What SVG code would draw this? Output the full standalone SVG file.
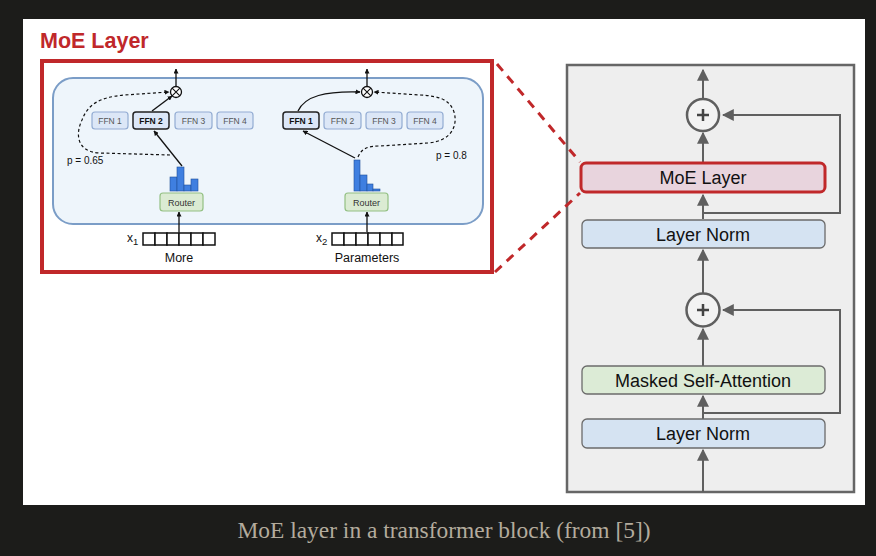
<svg xmlns="http://www.w3.org/2000/svg" width="876" height="556" viewBox="0 0 876 556">
<style>
.sans{font-family:"Liberation Sans",Arial,sans-serif;}
.ffn{fill:#dce7f7;stroke:#93acd3;stroke-width:1.2;}
.ffnsel{fill:#dce7f7;stroke:#222;stroke-width:1.5;}
.ffnt{font-family:"Liberation Sans",Arial,sans-serif;font-size:8.5px;fill:#555;text-anchor:middle;}
.ffnts{font-family:"Liberation Sans",Arial,sans-serif;font-size:8.5px;fill:#111;font-weight:bold;text-anchor:middle;}
.router{fill:#dbebd3;stroke:#93c083;stroke-width:1.2;}
.bar{fill:#3f7fe0;stroke:#1f4f9a;stroke-width:0.6;}
.cell{fill:#fff;stroke:#111;stroke-width:1.5;}
.thin{stroke:#111;stroke-width:1.3;fill:none;}
.dash{stroke:#111;stroke-width:1.2;fill:none;stroke-dasharray:3 2.5;}
.gline{stroke:#5f5f5f;stroke-width:2;fill:none;}
.box{stroke:#6b6b6b;stroke-width:1.3;}
.lbl{font-family:"Liberation Sans",Arial,sans-serif;font-size:18px;fill:#111;text-anchor:middle;}
</style>
<defs>
<marker id="ah" viewBox="0 0 10 10" refX="9" refY="5" markerWidth="5" markerHeight="5" orient="auto" markerUnits="userSpaceOnUse">
<path d="M0,0 L10,5 L0,10 z" fill="#111"/>
</marker>
<marker id="gh" viewBox="0 0 10 10" refX="9" refY="5" markerWidth="12" markerHeight="12" orient="auto" markerUnits="userSpaceOnUse">
<path d="M0,0 L10,5 L0,10 z" fill="#5f5f5f"/>
</marker>
</defs>
<rect width="876" height="556" fill="#1c1c1a"/>
<rect x="23" y="19" width="842" height="486" fill="#ffffff"/>

<text x="444" y="538" text-anchor="middle" font-family="'Liberation Serif','DejaVu Serif',serif" font-size="23" textLength="413" lengthAdjust="spacingAndGlyphs" fill="#b3ab9d">MoE layer in a transformer block (from [5])</text>

<!-- Left MoE detail -->
<g id="moe-title">
<text x="40" y="48" class="sans" font-size="21.5" font-weight="bold" fill="#c0282a">MoE Layer</text>
</g>
<g id="moe-detail">
<rect x="42" y="61" width="450" height="211" fill="none" stroke="#c0282a" stroke-width="4"/>
<rect x="53" y="78" width="430" height="146" rx="20" fill="#eef5fb" stroke="#7b9dc7" stroke-width="2"/>
</g>

<g id="token1">
<g id="ffn-left">
<rect class="ffn" x="92" y="112" width="36" height="17" rx="3"/><text class="ffnt" x="110" y="123.8">FFN 1</text>
<rect class="ffnsel" x="133" y="112" width="36" height="17" rx="3"/><text class="ffnts" x="151" y="123.8">FFN 2</text>
<rect class="ffn" x="175" y="112" width="37" height="17" rx="3"/><text class="ffnt" x="193.5" y="123.8">FFN 3</text>
<rect class="ffn" x="217" y="112" width="36" height="17" rx="3"/><text class="ffnt" x="235" y="123.8">FFN 4</text>
</g>
<g id="otimes-left">
<circle cx="176" cy="92" r="5.5" fill="#fff" stroke="#111" stroke-width="1.3"/>
<path d="M172.1,88.1 L179.9,95.9 M179.9,88.1 L172.1,95.9" stroke="#111" stroke-width="1.1"/>
</g>
<g id="hist-left">
<rect class="bar" x="170" y="177" width="7" height="14"/>
<rect class="bar" x="177" y="167" width="7" height="24"/>
<rect class="bar" x="184" y="185" width="7" height="6"/>
<rect class="bar" x="191" y="179" width="7" height="12"/>
</g>
<g id="router-left">
<rect class="router" x="160" y="193" width="43" height="18" rx="3"/>
<text x="181.5" y="205.5" class="sans" font-size="9" fill="#333" text-anchor="middle">Router</text>
</g>
<g id="x1">
<rect class="cell" x="143" y="233" width="12" height="12"/><rect class="cell" x="155" y="233" width="12" height="12"/><rect class="cell" x="167" y="233" width="12" height="12"/><rect class="cell" x="179" y="233" width="12" height="12"/><rect class="cell" x="191" y="233" width="12" height="12"/><rect class="cell" x="203" y="233" width="12" height="12"/>
<text x="127" y="242" class="sans" font-size="12" fill="#111">x<tspan font-size="9.5" dy="3">1</tspan></text>
<text x="179" y="262" class="sans" font-size="12.5" fill="#111" text-anchor="middle">More</text>
</g>
<text x="67" y="164" class="sans" font-size="10" fill="#111">p = 0.65</text>
</g>

<g id="token2">
<g id="ffn-right">
<rect class="ffnsel" x="283" y="112" width="36" height="17" rx="3"/><text class="ffnts" x="301" y="123.8">FFN 1</text>
<rect class="ffn" x="324" y="112" width="37" height="17" rx="3"/><text class="ffnt" x="342.5" y="123.8">FFN 2</text>
<rect class="ffn" x="366" y="112" width="36" height="17" rx="3"/><text class="ffnt" x="384" y="123.8">FFN 3</text>
<rect class="ffn" x="407" y="112" width="36" height="17" rx="3"/><text class="ffnt" x="425" y="123.8">FFN 4</text>
</g>
<g id="otimes-right">
<circle cx="367" cy="92" r="5.5" fill="#fff" stroke="#111" stroke-width="1.3"/>
<path d="M363.1,88.1 L370.9,95.9 M370.9,88.1 L363.1,95.9" stroke="#111" stroke-width="1.1"/>
</g>
<g id="hist-right">
<rect class="bar" x="354" y="160" width="6" height="31"/>
<rect class="bar" x="360" y="175" width="7" height="16"/>
<rect class="bar" x="367" y="184" width="6" height="7"/>
<rect class="bar" x="373" y="189" width="7" height="2"/>
</g>
<g id="router-right">
<rect class="router" x="345" y="193" width="43" height="18" rx="3"/>
<text x="366.5" y="205.5" class="sans" font-size="9" fill="#333" text-anchor="middle">Router</text>
</g>
<g id="x2">
<rect class="cell" x="332" y="233" width="12" height="12"/><rect class="cell" x="344" y="233" width="12" height="12"/><rect class="cell" x="356" y="233" width="12" height="12"/><rect class="cell" x="368" y="233" width="12" height="12"/><rect class="cell" x="380" y="233" width="12" height="12"/><rect class="cell" x="392" y="233" width="11" height="12"/>
<text x="316" y="242" class="sans" font-size="12" fill="#111">x<tspan font-size="9.5" dy="3">2</tspan></text>
<text x="367" y="262" class="sans" font-size="12.5" fill="#111" text-anchor="middle">Parameters</text>
</g>
<text x="436" y="159" class="sans" font-size="10" fill="#111">p = 0.8</text>
</g>

<g id="moe-connectors">
<path class="thin" d="M176,86.5 L176,69" marker-end="url(#ah)"/>
<path class="thin" d="M152,111 L172,96" marker-end="url(#ah)"/>
<path class="thin" d="M182,166 L154,131" marker-end="url(#ah)"/>
<path class="thin" d="M179,232 L179,212" marker-end="url(#ah)"/>
<path class="dash" d="M170,155 L100,153 C75,152 76,132 82,120 C88,104 100,97 125,95 L169,92" marker-end="url(#ah)"/>
<path class="thin" d="M367,86.5 L367,69" marker-end="url(#ah)"/>
<path class="thin" d="M355,158 L303,131" marker-end="url(#ah)"/>
<path class="thin" d="M298,111 C305,96 325,91 360,92" marker-end="url(#ah)"/>
<path class="thin" d="M367,232 L367,212" marker-end="url(#ah)"/>
<path class="dash" d="M358,157 C362,148 368,146 380,146 L428,143 C452,141 458,125 454,112 C450,100 440,96 420,95 L374,92" marker-end="url(#ah)"/>
</g>

<!-- Right transformer block -->
<g id="block">
<rect x="567" y="65" width="287" height="427" fill="#eeeeee" stroke="#666" stroke-width="2.5"/>
</g>
<g id="block-connectors">
<path class="gline" d="M703,98 L703,70" marker-end="url(#gh)"/>
<path class="gline" d="M703,162 L703,133" marker-end="url(#gh)"/>
<path class="gline" d="M703,219 L703,195" marker-end="url(#gh)"/>
<path class="gline" d="M703,213 L840,213 L840,115 L723,115" marker-end="url(#gh)"/>
<path class="gline" d="M703,293 L703,250" marker-end="url(#gh)"/>
<path class="gline" d="M703,366 L703,329" marker-end="url(#gh)"/>
<path class="gline" d="M703,419 L703,396" marker-end="url(#gh)"/>
<path class="gline" d="M703,413 L840,413 L840,310 L723,310" marker-end="url(#gh)"/>
<path class="gline" d="M703,492 L703,450" marker-end="url(#gh)"/>
</g>
<g id="add-top">
<circle cx="703" cy="115" r="16" fill="#f3f3f3" stroke="#5f5f5f" stroke-width="2.5"/>
<path d="M697,115 L709,115 M703,109 L703,121" stroke="#444" stroke-width="2.5"/>
</g>
<g id="moe-node">
<rect x="581" y="163" width="244" height="29" rx="5" fill="#e8d4dd" stroke="#c0282a" stroke-width="3"/>
<text class="lbl" x="703" y="184">MoE Layer</text>
</g>
<g id="layernorm-top">
<rect x="582" y="220" width="243" height="28" rx="5" fill="#d5e3f2" class="box"/>
<text class="lbl" x="703" y="240.5">Layer Norm</text>
</g>
<g id="add-bottom">
<circle cx="703" cy="310" r="16.5" fill="#f3f3f3" stroke="#5f5f5f" stroke-width="2.5"/>
<path d="M697,310 L709,310 M703,304 L703,316" stroke="#444" stroke-width="2.5"/>
</g>
<g id="msa">
<rect x="582" y="366" width="243" height="28" rx="5" fill="#dcebd6" class="box"/>
<text class="lbl" x="703" y="386.5">Masked Self-Attention</text>
</g>
<g id="layernorm-bottom">
<rect x="582" y="419" width="243" height="29" rx="5" fill="#d5e3f2" class="box"/>
<text class="lbl" x="703" y="440">Layer Norm</text>
</g>

<!-- zoom dashed lines -->
<g id="zoom-lines">
<path d="M497,64 L580,162" fill="none" stroke="#c0282a" stroke-width="3" stroke-dasharray="9 7"/>
<path d="M495,272 L580,193" fill="none" stroke="#c0282a" stroke-width="3" stroke-dasharray="9 7"/>
</g>
</svg>
